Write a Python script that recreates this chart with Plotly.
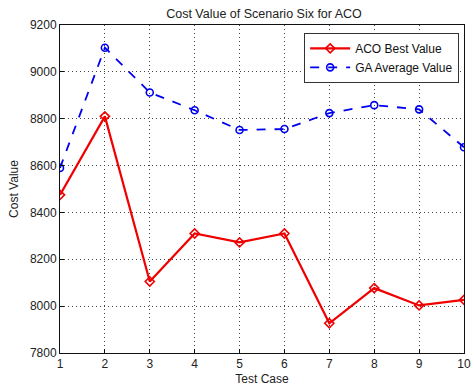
import plotly.graph_objects as go

test_case = [1, 2, 3, 4, 5, 6, 7, 8, 9, 10]
aco_best = [8475, 8810, 8105, 8310, 8272, 8310, 7927, 8077, 8003, 8027]
ga_avg = [8590, 9103, 8912, 8836, 8752, 8756, 8824, 8858, 8840, 8678]
y_ticks = [7800, 8000, 8200, 8400, 8600, 8800, 9000, 9200]

FONT = "Liberation Sans, Arial, sans-serif"

fig = go.Figure()
fig.add_trace(go.Scatter(
    x=test_case, y=aco_best, mode="lines+markers", name="ACO Best Value",
    line=dict(color="#f00000", width=2.2),
    marker=dict(symbol="diamond-open", size=7, color="#f00000", line=dict(width=1.6)),
))
fig.add_trace(go.Scatter(
    x=test_case, y=ga_avg, mode="lines+markers", name="GA Average Value",
    line=dict(color="#0000f0", width=1.8, dash="dash"),
    marker=dict(symbol="circle-open", size=7, color="#0000f0", line=dict(width=1.6)),
))

axis_common = dict(
    showline=True, linecolor="#111", linewidth=1, mirror=True,
    ticks="inside", ticklen=4, tickcolor="#111",
    showgrid=True, gridcolor="#444", griddash="1px,3px", gridwidth=1,
    zeroline=False, tickfont=dict(family=FONT, size=12, color="#222"),
)

fig.update_layout(
    width=474, height=392,
    margin=dict(l=60, r=3, t=25, b=39),
    paper_bgcolor="white", plot_bgcolor="white",
    font=dict(family=FONT, size=12, color="#222"),
    title=dict(text="Cost Value of Scenario Six for ACO", x=0.557, xanchor="center",
               y=0.977, yanchor="top", font=dict(family=FONT, size=12.5, color="#222")),
    xaxis=dict(range=[1, 10], tickvals=test_case, ticklabeloverflow="allow", **axis_common,
               title=dict(text="Test Case", standoff=4, font=dict(family=FONT, size=12, color="#222"))),
    yaxis=dict(range=[7800, 9200], tickvals=y_ticks, **axis_common,
               title=dict(text="Cost Value", standoff=8, font=dict(family=FONT, size=12, color="#222"))),
    legend=dict(x=0.988, y=0.976, xanchor="right", yanchor="top",
                bgcolor="white", bordercolor="#333", borderwidth=1,
                font=dict(family=FONT, size=12, color="#111"),
                tracegroupgap=0, itemwidth=40),
    showlegend=True,
)

fig.write_html("out.html")
